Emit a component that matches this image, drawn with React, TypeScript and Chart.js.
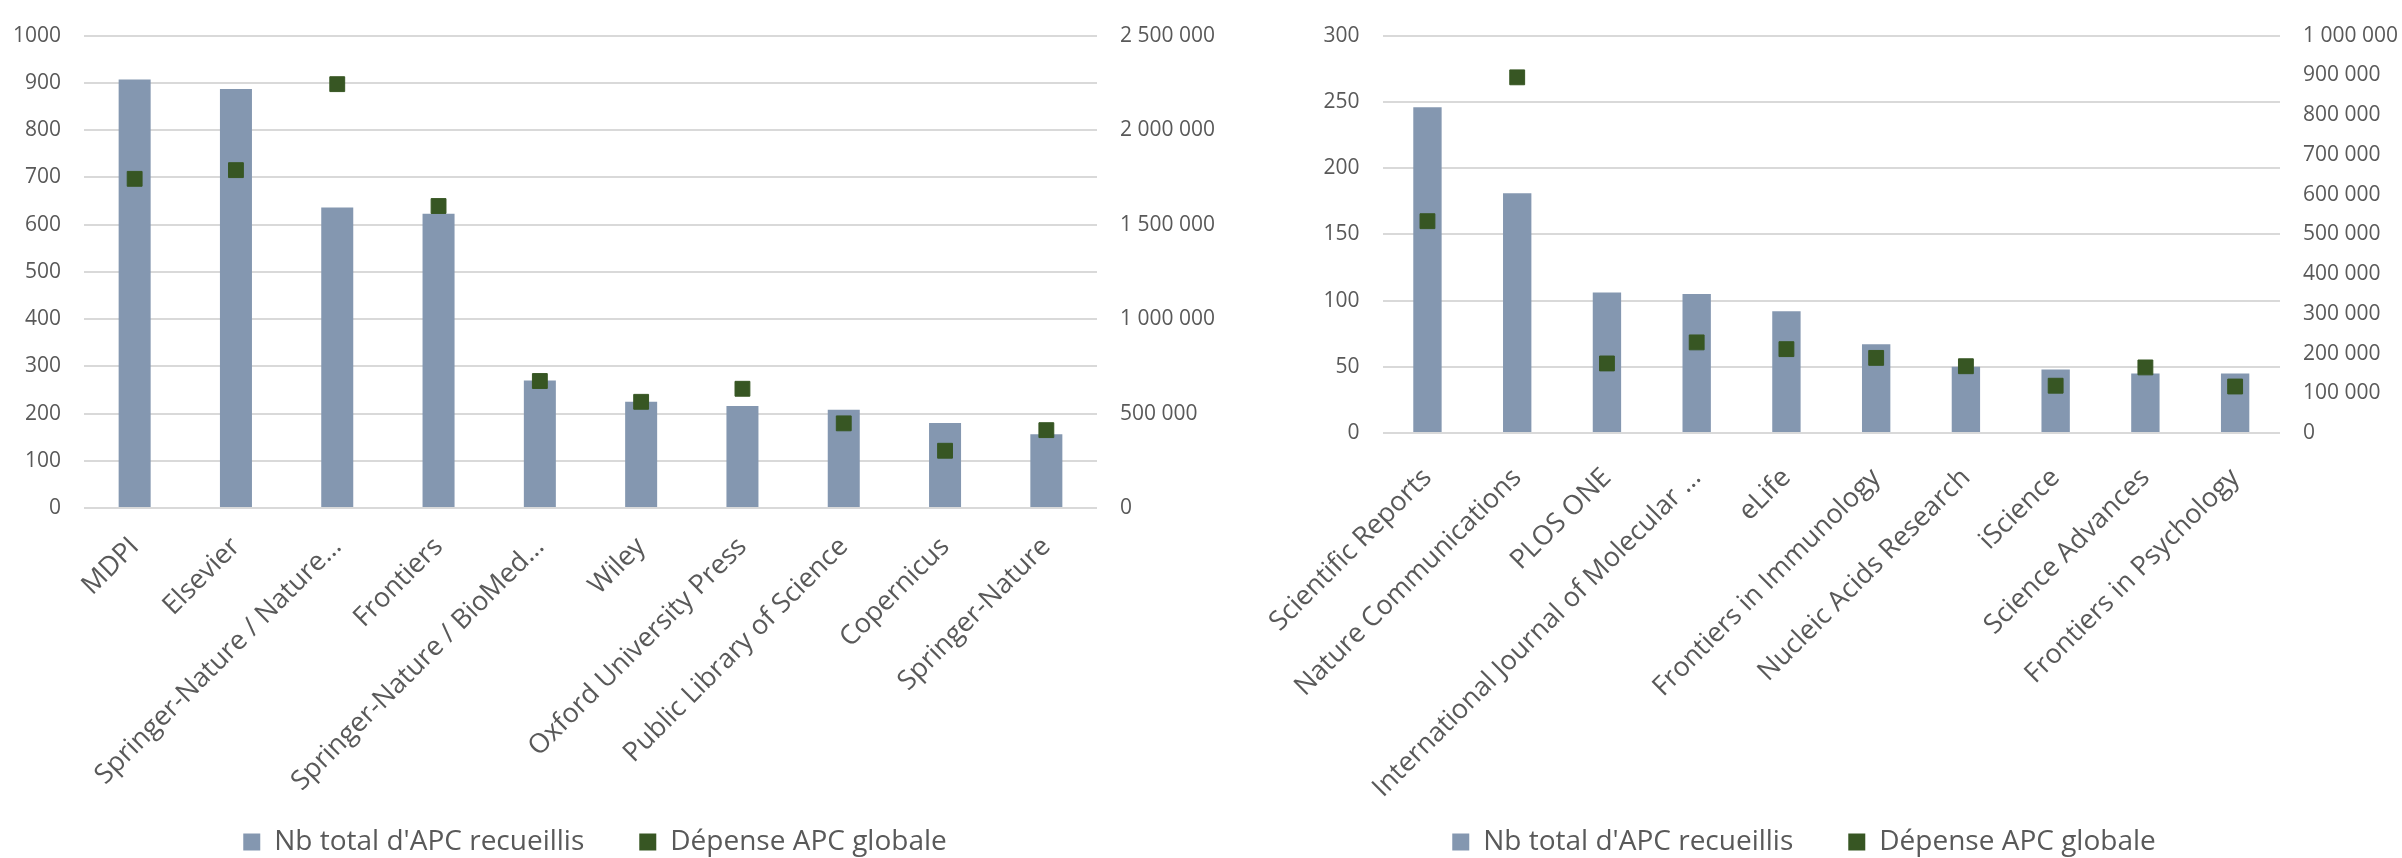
import React, { useEffect, useRef } from 'react';
import { Chart, registerables } from 'chart.js';

Chart.register(...registerables);

const publishers = [
  'MDPI',
  'Elsevier',
  'Springer-Nature / Nature…',
  'Frontiers',
  'Springer-Nature / BioMed…',
  'Wiley',
  'Oxford University Press',
  'Public Library of Science',
  'Copernicus',
  'Springer-Nature',
];
const publisherCounts = [907, 887, 636, 623, 270, 225, 216, 208, 180, 156];
const publisherSpend = [1742000, 1788000, 2243000, 1598000, 672000, 562000, 631000, 448000, 303000, 412000];

const journals = [
  'Scientific Reports',
  'Nature Communications',
  'PLOS ONE',
  'International Journal of Molecular …',
  'eLife',
  'Frontiers in Immunology',
  'Nucleic Acids Research',
  'iScience',
  'Science Advances',
  'Frontiers in Psychology',
];
const journalCounts = [246, 181, 106, 105, 92, 67, 50, 48, 45, 45];
const journalSpend = [533000, 895000, 175000, 228000, 211000, 189000, 168000, 119000, 165000, 117000];

const seriesNames = ["Nb total d'APC recueillis", 'Dépense APC globale'];

const FONT = "'Open Sans', sans-serif";
const TEXT = '#595959';
const GRID = '#D9D9D9';
const BAR = '#8497B0';
const MARK = '#375623';

const fmt = (v: number) => String(Math.round(v)).replace(/\B(?=(\d{3})+(?!\d))/g, ' ');

type Spec = {
  labels: string[];
  counts: number[];
  spend: number[];
  yMax: number;
  yStep: number;
  y2Max: number;
  y2Step: number;
  leftW: number;
  rightW: number;
  xH: number;
  xPad: number;
  padTop: number;
  padRight: number;
};

const noClip = (scale: any) => {
  scale._computeLabelArea = () => undefined;
};

function makeConfig(s: Spec): any {
  return {
    type: 'bar',
    data: {
      labels: s.labels,
      datasets: [
        {
          type: 'bar',
          label: seriesNames[0],
          data: s.counts,
          yAxisID: 'y',
          backgroundColor: BAR,
          borderWidth: 0,
          barPercentage: 0.316,
          categoryPercentage: 1,
          order: 1,
        },
        {
          type: 'line',
          label: seriesNames[1],
          data: s.spend,
          yAxisID: 'y2',
          showLine: false,
          pointStyle: 'rect',
          pointRadius: 10.5,
          pointHoverRadius: 10.5,
          pointBackgroundColor: MARK,
          pointBorderColor: MARK,
          pointBorderWidth: 1,
          backgroundColor: MARK,
          borderColor: MARK,
          borderWidth: 0,
          order: 0,
        },
      ],
    },
    options: {
      animation: false,
      responsive: true,
      maintainAspectRatio: false,
      layout: { padding: { left: 0, right: s.padRight, top: s.padTop, bottom: 0 } },
      plugins: {
        tooltip: { enabled: false },
        legend: {
          position: 'bottom',
          maxHeight: 85,
          labels: {
            font: { family: FONT, size: 28 },
            color: TEXT,
            boxWidth: 17,
            boxHeight: 17,
            padding: 55,
            sort: (a: any, b: any) => a.datasetIndex - b.datasetIndex,
          },
        },
      },
      scales: {
        x: {
          grid: { display: false, drawTicks: false },
          border: { display: false },
          ticks: {
            autoSkip: false,
            maxRotation: 45,
            minRotation: 45,
            padding: s.xPad,
            font: { family: FONT, size: 27 },
            color: TEXT,
          },
          afterFit: (scale: any) => {
            scale.height = s.xH;
            noClip(scale);
          },
        },
        y: {
          position: 'left',
          min: 0,
          max: s.yMax,
          ticks: {
            stepSize: s.yStep,
            padding: 23,
            font: { family: FONT, size: 21 },
            color: TEXT,
            callback: (v: any) => String(v),
          },
          grid: { color: GRID, lineWidth: 2, drawTicks: false },
          border: { display: false },
          afterFit: (scale: any) => {
            scale.width = s.leftW;
            noClip(scale);
          },
        },
        y2: {
          position: 'right',
          min: 0,
          max: s.y2Max,
          ticks: {
            stepSize: s.y2Step,
            padding: 23,
            font: { family: FONT, size: 21 },
            color: TEXT,
            callback: (v: any) => fmt(Number(v)),
          },
          grid: { display: false, drawTicks: false },
          border: { display: false },
          afterFit: (scale: any) => {
            scale.width = s.rightW;
            noClip(scale);
          },
        },
      },
    },
  };
}

function ChartBox({ left, width, spec }: { left: number; width: number; spec: Spec }) {
  const ref = useRef<HTMLCanvasElement>(null);
  useEffect(() => {
    const chart = new Chart(ref.current as HTMLCanvasElement, makeConfig(spec));
    return () => chart.destroy();
  }, []);
  return (
    <div style={{ position: 'absolute', left, top: 0, width, height: 858 }}>
      <canvas ref={ref} />
    </div>
  );
}

export default function App() {
  useEffect(() => {
    document.body.style.margin = '0';
    document.body.style.overflow = 'hidden';
  }, []);
  return (
    <div style={{ position: 'absolute', left: 0, top: 0, width: 2402, height: 858, background: '#fff', overflow: 'hidden' }}>
      <ChartBox
        left={0}
        width={1240}
        spec={{
          labels: publishers,
          counts: publisherCounts,
          spend: publisherSpend,
          yMax: 1000,
          yStep: 100,
          y2Max: 2500000,
          y2Step: 500000,
          leftW: 84,
          rightW: 93,
          xH: 265,
          xPad: 23,
          padTop: 23,
          padRight: 50,
        }}
      />
      <ChartBox
        left={1240}
        width={1162}
        spec={{
          labels: journals,
          counts: journalCounts,
          spend: journalSpend,
          yMax: 300,
          yStep: 50,
          y2Max: 1000000,
          y2Step: 100000,
          leftW: 105,
          rightW: 88,
          xH: 340,
          xPad: 29,
          padTop: 22,
          padRight: 34,
        }}
      />
    </div>
  );
}
